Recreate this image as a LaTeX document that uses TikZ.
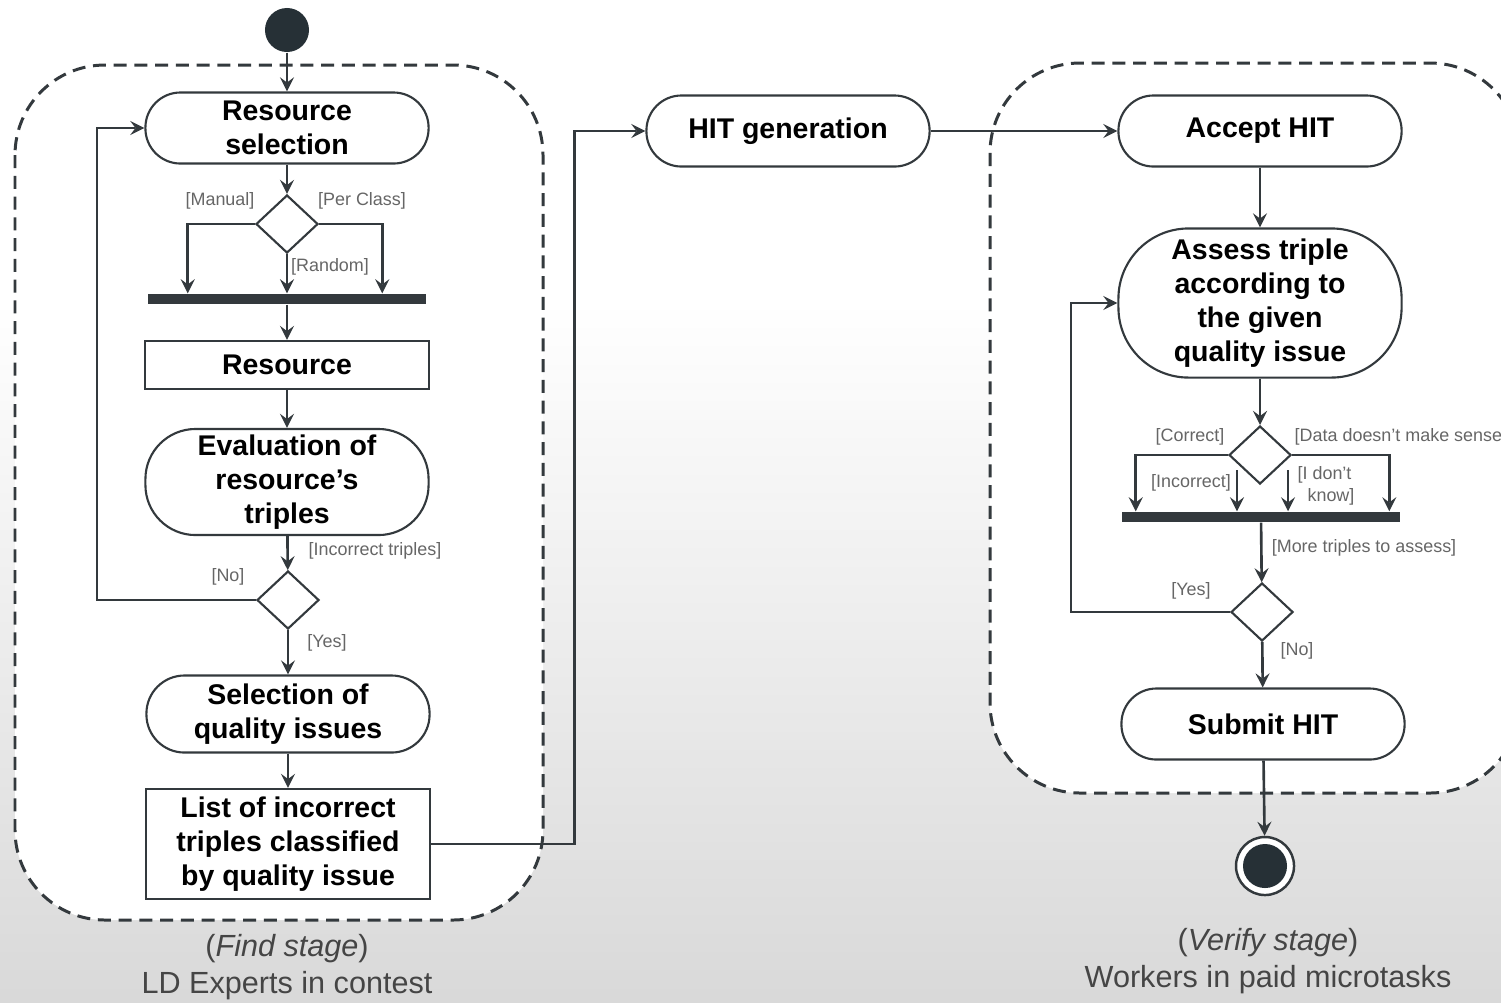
\documentclass[tikz,border=0pt]{standalone}
\usepackage{fontspec}
\setmainfont{Liberation Sans}
\usetikzlibrary{shapes.geometric,calc}
\tikzset{>=stealth}

\definecolor{lineclr}{HTML}{33393D}
\definecolor{dotclr}{HTML}{263036}
\definecolor{lblclr}{HTML}{666666}
\definecolor{capclr}{HTML}{454545}

\tikzset{
  act/.style={draw=lineclr, line width=0.6pt, fill=white, rounded corners=0.35cm,
    minimum width=2.83cm, minimum height=0.71cm, align=center, inner sep=1pt,
    font=\fontsize{8.1}{9.7}\selectfont\bfseries},
  obj/.style={act, rounded corners=0pt},
  decision/.style={diamond, draw=lineclr, line width=0.6pt, fill=white,
    minimum width=0.62cm, minimum height=0.58cm, inner sep=0pt},
  forkbar/.style={fill=lineclr, minimum width=2.77cm, minimum height=0.1cm, inner sep=0pt},
  guard/.style={text=lblclr, inner sep=0pt, font=\fontsize{5.1}{6.3}\selectfont},
  stagebox/.style={draw=lineclr, line width=0.85pt, fill=white, rounded corners=0.9cm,
    dash pattern=on 3.7pt off 2.2pt},
  flow/.style={->, draw=lineclr, line width=0.75pt},
  caption/.style={text=capclr, align=center, font=\fontsize{8.7}{10.5}\selectfont}
}

\begin{document}
\begin{tikzpicture}[x=0.01cm, y=-0.01cm]
    \useasboundingbox (0,0) rectangle (1501,1002);
    \clip (0,0) rectangle (1501,1002);
    \fill[white] (0,0) rectangle (1501,300);
    \shade[top color=white, bottom color=black!15] (0,300) rectangle (1501,1002);

    % stages
    \draw[stagebox] (15,65) rectangle (543,920);
    \draw[stagebox] (990,63) rectangle (1520,793);

    % find stage
    \node[circle, fill=dotclr, minimum size=0.44cm, inner sep=0pt] (start) at (287,30) {};
    \node[act] (ressel) at (287,128) {Resource\\selection};
    \node[decision] (dec1) at (287,224) {};
    \node[forkbar] (bar1) at (287,299) {};
    \node[obj, minimum width=2.84cm, minimum height=0.48cm] (res) at (287,365) {Resource};
    \node[act, minimum height=1.06cm, rounded corners=0.5cm] (eval) at (287,482) {Evaluation of\\resource’s\\triples};
    \node[decision] (dec2) at (288,600) {};
    \node[act, minimum height=0.77cm, rounded corners=0.38cm] (selq) at (288,714) {Selection of\\quality issues};
    \node[obj, minimum width=2.83cm, minimum height=1.1cm] (list) at (288,844) {List of incorrect\\triples classified\\by quality issue};

    \node[guard] (lmanual) at (220,201) {[Manual]};
    \node[guard] (lperclass) at (362,201) {[Per Class]};
    \node[guard] (lrandom) at (330,267) {[Random]};
    \node[guard] (lincorr) at (375,551) {[Incorrect triples]};
    \node[guard] (lno) at (228,577) {[No]};
    \node[guard] (lyes) at (327,643) {[Yes]};

    \draw[flow] (start) -- (ressel);
    \draw[flow] (ressel) -- (dec1);
    \draw[flow] (dec1.west) -| ([xshift=0.4cm]bar1.north west);
    \draw[flow] (dec1.east) -| ([xshift=-0.44cm]bar1.north east);
    \draw[flow] (dec1.south) -- (dec1 |- bar1.north);
    \draw[flow] (bar1) -- (res);
    \draw[flow] (res) -- (eval);
    \draw[flow] (eval) -- (dec2);
    \draw[flow] (dec2.west) -- ++(-159,0) |- (ressel.west);
    \draw[flow] (dec2) -- (selq);
    \draw[flow] (selq) -- (list);

    % hit generation
    \node[act] (hitgen) at (788,131) {HIT generation};
    \draw[flow] (list.east) -- ++(144,0) |- (hitgen.west);

    % verify stage
    \node[act] (accept) at (1260,131) {Accept HIT};
    \node[act, minimum height=1.49cm, rounded corners=0.7cm] (assess) at (1260,303) {Assess triple\\according to\\the given\\quality issue};
    \node[decision] (dec3) at (1260,455) {};
    \node[forkbar] (bar2) at (1261,517) {};
    \node[decision] (dec4) at (1262,612) {};
    \node[act] (submit) at (1263,724) {Submit HIT};
    \node[circle, draw=lineclr, line width=0.7pt, fill=white, minimum size=0.58cm, inner sep=0pt,
      path picture={\fill[dotclr] (path picture bounding box.center) circle (0.22cm);}] (stop) at (1265,866) {};

    \node[guard] (lcorrect) at (1190,437) {[Correct]};
    \node[guard, anchor=west] (ldata) at (1294,437) {[Data doesn't make sense};
    \node[guard] (lincorrect) at (1191,483) {[Incorrect]};
    \node[guard, align=left] (ldontknow) at (1326,486) {[I don't\\\ \ know]};
    \node[guard] (lmore) at (1364,548) {[More triples to assess]};
    \node[guard] (lyes2) at (1191,591) {[Yes]};
    \node[guard] (lno2) at (1297,651) {[No]};

    \draw[flow] (hitgen) -- (accept);
    \draw[flow] (accept) -- (assess);
    \draw[flow] (assess) -- (dec3);
    \draw[flow] (dec3.west) -| ([xshift=0.14cm]bar2.north west);
    \draw[flow] (dec3.east) -| ([xshift=-0.11cm]bar2.north east);
    \draw[flow] ([xshift=-0.07cm]dec3.south west) -- ([xshift=-0.07cm]dec3.south west |- bar2.north);
    \draw[flow] ([xshift=0.12cm]dec3.south east) -- ([xshift=0.12cm]dec3.south east |- bar2.north);
    \draw[flow] (bar2) -- (dec4);
    \draw[flow] (dec4.west) -- ++(-159,0) |- (assess.west);
    \draw[flow] (dec4) -- (submit);
    \draw[flow] (submit) -- (stop);

    % captions
    \node[caption] (findcap) at (287,967) {(\textit{Find stage})\\LD Experts in contest};
    \node[caption] (verifycap) at (1268,961) {(\textit{Verify stage})\\Workers in paid microtasks};
\end{tikzpicture}
\end{document}
